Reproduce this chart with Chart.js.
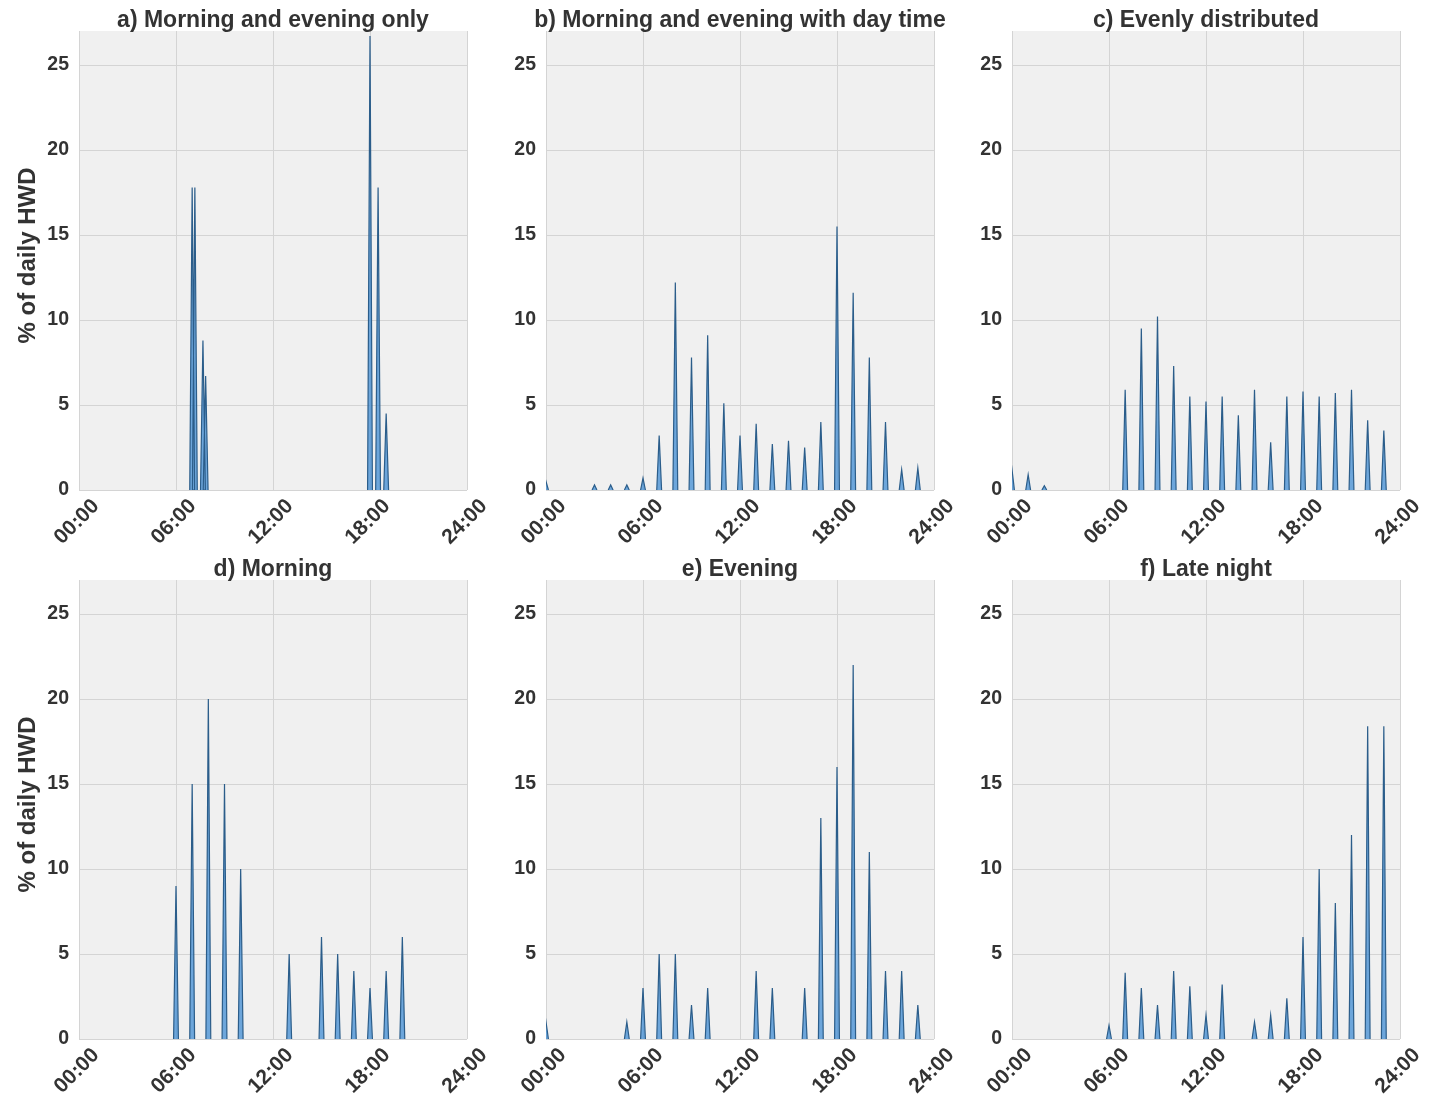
<!DOCTYPE html>
<html>
<head>
<meta charset="utf-8">
<script src="https://cdn.jsdelivr.net/npm/chart.js@4.4.1/dist/chart.umd.min.js"></script>
<style>
  html, body { margin: 0; padding: 0; background: #ffffff; }
  #fig { position: relative; width: 1429px; height: 1100px; overflow: hidden; }
  #fig canvas { position: absolute; left: 0; top: 0; }
</style>
</head>
<body>
<div id="fig"></div>
<script>
// ---- data -------------------------------------------------------------
const hours = [0, 1, 2, 3, 4, 5, 6, 7, 8, 9, 10, 11, 12, 13, 14, 15, 16, 17, 18, 19, 20, 21, 22, 23];
const xTicks = [0, 6, 12, 18, 24];
const xTickLabels = ['00:00', '06:00', '12:00', '18:00', '24:00'];
const yTicks = [0, 5, 10, 15, 20, 25];
const yAxisTitle = '% of daily HWD';
const panelTitles = [
  'a) Morning and evening only',
  'b) Morning and evening with day time',
  'c) Evenly distributed',
  'd) Morning',
  'e) Evening',
  'f) Late night'
];

// a) draw-off events recorded at clock times
const morningEveningTimes  = ['07:00', '07:10', '07:40', '07:50', '18:00', '18:30', '19:00'];
const morningEveningValues = [17.8, 17.8, 8.8, 6.7, 26.7, 17.8, 4.5];

// b) - f) share of daily hot water demand per hour of day
const withDayTime = [0.5, 0, 0, 0.3, 0.3, 0.3, 0.7, 3.2, 12.2, 7.8, 9.1, 5.1, 3.2, 3.9, 2.7, 2.9, 2.5, 4.0, 15.5, 11.6, 7.8, 4.0, 1.2, 1.3];
const evenlyDistributed = [1.2, 0.9, 0.25, 0, 0, 0, 0, 5.9, 9.5, 10.2, 7.3, 5.5, 5.2, 5.5, 4.4, 5.9, 2.8, 5.5, 5.8, 5.5, 5.7, 5.9, 4.1, 3.5];
const morningOnly = [0, 0, 0, 0, 0, 0, 9, 15, 20, 15, 10, 0, 0, 5, 0, 6, 5, 4, 3, 4, 6, 0, 0, 0];
const eveningOnly = [1, 0, 0, 0, 0, 1, 3, 5, 5, 2, 3, 0, 0, 4, 3, 0, 3, 13, 16, 22, 11, 4, 4, 2];
const lateNight = [0, 0, 0, 0, 0, 0, 0.8, 3.9, 3.0, 2.0, 4.0, 3.1, 1.4, 3.2, 0, 1.0, 1.4, 2.4, 6.0, 10.0, 8.0, 12.0, 18.4, 18.4];

// ---- layout & style ---------------------------------------------------
const W = 1429, H = 1100;
const colSpans = [[79, 467], [546, 934], [1012, 1400]];
const rowSpans = [[31, 490], [580, 1039]];
const Y_AXIS_W = 60;
const FONT = "'Liberation Sans', Arial, Helvetica, sans-serif";
const TEXT = '#333333';
const HALF_WIDTH = 0.15;   // half base width of a spike, in hours

function clockToHours(s) {
  const [h, m] = s.split(':').map(Number);
  return h + m / 60;
}

// Each demand value becomes a narrow triangular spike standing on zero;
// spikes that do not touch are kept as separate segments.
function spikes(times, values) {
  const pts = [];
  let lastEnd = -Infinity;
  times.forEach((t, i) => {
    const v = values[i];
    if (!(v > 0)) return;
    if (pts.length && t - HALF_WIDTH > lastEnd) pts.push({ x: (lastEnd + t - HALF_WIDTH) / 2, y: null });
    pts.push({ x: t - HALF_WIDTH, y: 0 }, { x: t, y: v }, { x: t + HALF_WIDTH, y: 0 });
    lastEnd = t + HALF_WIDTH;
  });
  return pts;
}

const panels = [
  { title: panelTitles[0], times: morningEveningTimes.map(clockToHours), values: morningEveningValues },
  { title: panelTitles[1], times: hours, values: withDayTime },
  { title: panelTitles[2], times: hours, values: evenlyDistributed },
  { title: panelTitles[3], times: hours, values: morningOnly },
  { title: panelTitles[4], times: hours, values: eveningOnly },
  { title: panelTitles[5], times: hours, values: lateNight }
];

const plotBackground = {
  id: 'plotBackground',
  beforeDraw(chart) {
    const { ctx, chartArea: a } = chart;
    ctx.save();
    ctx.fillStyle = '#f0f0f0';
    ctx.fillRect(a.left, a.top, a.right - a.left, a.bottom - a.top);
    ctx.restore();
  }
};

const panelText = {
  id: 'panelText',
  afterDraw(chart, args, opts) {
    const { ctx, chartArea: a } = chart;
    const xs = chart.scales.x;
    ctx.save();
    ctx.fillStyle = TEXT;
    // panel title
    ctx.font = `bold 23px ${FONT}`;
    ctx.textAlign = 'center';
    ctx.textBaseline = 'alphabetic';
    ctx.fillText(opts.title, (a.left + a.right) / 2, a.top - 4);
    // rotated hour labels
    ctx.font = `bold 21px ${FONT}`;
    ctx.textBaseline = 'middle';
    xTicks.forEach((v, i) => {
      const px = xs.getPixelForValue(v);
      ctx.save();
      ctx.translate(px - 2, a.bottom + 32);
      ctx.rotate(-Math.PI / 4);
      ctx.fillText(xTickLabels[i], 0, 0);
      ctx.restore();
    });
    // y axis title on the left column
    if (opts.showYTitle) {
      ctx.save();
      ctx.font = `bold 24px ${FONT}`;
      ctx.translate(28, (a.top + a.bottom) / 2 - 5);
      ctx.rotate(-Math.PI / 2);
      ctx.textBaseline = 'middle';
      ctx.fillText(yAxisTitle, 0, 0);
      ctx.restore();
    }
    ctx.restore();
  }
};

const fig = document.getElementById('fig');

panels.forEach((p, idx) => {
  const col = idx % 3, row = Math.floor(idx / 3);
  const [L, R] = colSpans[col];
  const [T, B] = rowSpans[row];
  const canvas = document.createElement('canvas');
  canvas.width = W; canvas.height = H;
  canvas.style.width = W + 'px'; canvas.style.height = H + 'px';
  fig.appendChild(canvas);

  const gridStyle = { color: '#d4d4d4', lineWidth: 1, drawTicks: false };

  new Chart(canvas, {
    type: 'line',
    data: {
      datasets: [{
        data: spikes(p.times, p.values),
        borderColor: '#2b5d8a',
        borderWidth: 1.2,
        backgroundColor: 'rgba(66, 142, 212, 0.75)',
        fill: 'origin',
        spanGaps: false,
        pointRadius: 0,
        tension: 0
      }]
    },
    options: {
      responsive: false,
      animation: false,
      devicePixelRatio: 1,
      events: [],
      layout: { padding: { left: L - Y_AXIS_W, right: W - R, top: T, bottom: H - B } },
      plugins: {
        legend: { display: false },
        tooltip: { enabled: false },
        title: { display: false },
        panelText: { title: p.title, showYTitle: col === 0 }
      },
      scales: {
        x: {
          type: 'linear', min: 0, max: 24,
          afterBuildTicks(s) { s.ticks = xTicks.map(v => ({ value: v })); },
          afterFit(s) { s.height = 0; },
          ticks: { display: false },
          grid: gridStyle,
          border: { display: false }
        },
        y: {
          type: 'linear', min: 0, max: 27,
          afterBuildTicks(s) { s.ticks = yTicks.map(v => ({ value: v })); },
          afterFit(s) { s.width = Y_AXIS_W; },
          ticks: { padding: 10, color: TEXT, font: { family: FONT, size: 19.5, weight: 'bold' } },
          grid: gridStyle,
          border: { display: false }
        }
      }
    },
    plugins: [plotBackground, panelText]
  });
});
</script>
</body>
</html>
